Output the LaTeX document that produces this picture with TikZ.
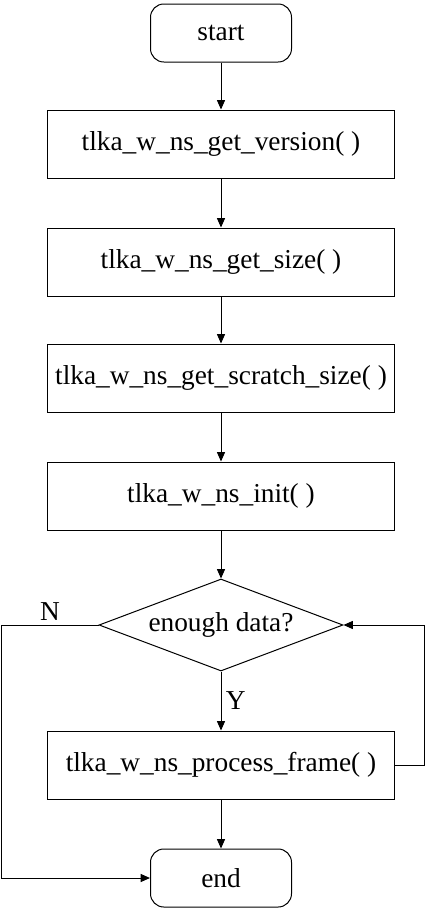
\documentclass[tikz,border=0pt]{standalone}
\usepackage{fontspec}
\setmainfont{Liberation Serif}
\usetikzlibrary{shapes.geometric}
\usetikzlibrary{arrows.meta}
\usetikzlibrary{positioning}

\begin{document}
\begin{tikzpicture}[x=0.75pt, y=-0.75pt, line width=0.75pt,
		every node/.style={font=\fontsize{20.5}{24}\selectfont},
		term/.style={draw,rounded corners=10pt,minimum width=141*0.75pt,
		minimum height=58*0.75pt},
		proc/.style={draw,minimum width=347*0.75pt,minimum height=68*0.75pt},
		cond/.style={draw,diamond,aspect=2.65,minimum width=244*0.75pt,
		minimum height=92*0.75pt,inner sep=0pt},
		flow/.style={-{Triangle[length=7pt,width=6pt]}}]
	\useasboundingbox (0,0) rectangle (426,911);
	\node[term] (start) at (221, 33) {start};
	\node[proc] (ver) at (221, 144) {tlka\_w\_ns\_get\_version( )};
	\node[proc] (size) at (221, 262) {tlka\_w\_ns\_get\_size( )};
	\node[proc] (scratch) at (221, 378) {tlka\_w\_ns\_get\_scratch\_size( )};
	\node[proc] (init) at (221, 496) {tlka\_w\_ns\_init( )};
	\node[cond] (enough) at (221, 625) {enough data?};
	\node[proc] (frame) at (221, 765) {tlka\_w\_ns\_process\_frame( )};
	\node[term] (endn) at (221, 878) {end};
	\draw[flow] (start) to (ver);
	\draw[flow] (ver) to (size);
	\draw[flow] (size) to (scratch);
	\draw[flow] (scratch) to (init);
	\draw[flow] (init) to (enough);
	\draw[flow] (enough) to node[right] {Y} (frame);
	\draw[flow] (frame) to (endn);
	\draw[flow] (enough.west) -- node[above,pos=0.5] {N} ++(-97,0) |- (endn.west);
	\draw[flow] (frame.east) -- ++(29,0) |- (enough.east);
\end{tikzpicture}
\end{document}
